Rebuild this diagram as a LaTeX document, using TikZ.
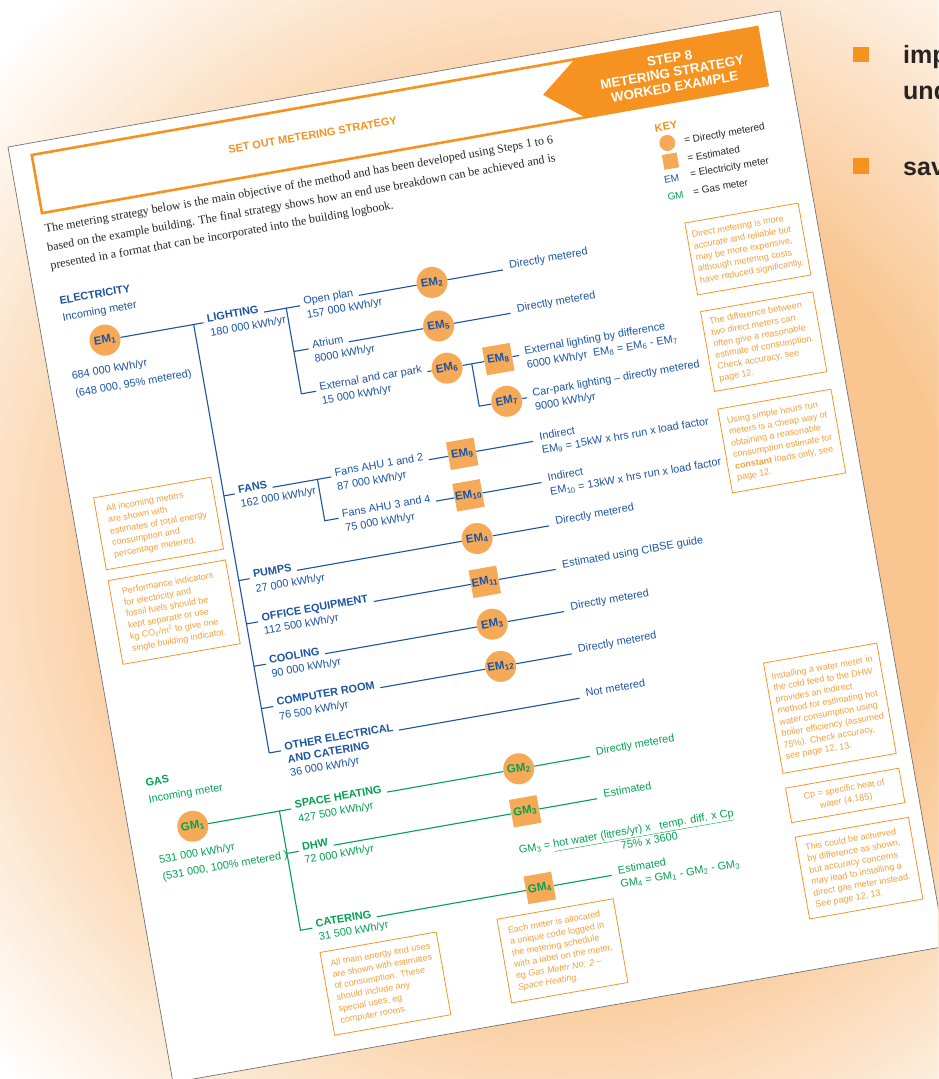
\documentclass[tikz,border=0pt]{standalone}
\usepackage{fontspec}
\setmainfont{Liberation Serif}
\setsansfont{Liberation Sans}
\definecolor{elecblue}{RGB}{28,84,164}
\definecolor{gasgreen}{RGB}{0,163,80}
\definecolor{meterfill}{RGB}{246,170,88}
\definecolor{bannerorange}{RGB}{245,146,32}
\definecolor{notetext}{RGB}{246,160,60}
\definecolor{notebox}{RGB}{245,150,40}
\definecolor{inkgrey}{RGB}{40,36,36}
\definecolor{peach}{RGB}{249,198,146}
\newcommand{\treefont}{\sffamily\fontsize{10.9}{13}\selectfont}
\newcommand{\notefont}{\sffamily\fontsize{9}{11.6}\selectfont}

\begin{document}
\begin{tikzpicture}[x=1pt, y=-1pt,
	wire/.style={elecblue, line width=1.1pt},
	gwire/.style={gasgreen, line width=1.1pt},
	dmeter/.style={circle, fill=meterfill, minimum size=31pt, inner sep=0pt, font=\sffamily\bfseries\fontsize{11.5}{13}\selectfont},
	emeter/.style={rectangle, fill=meterfill, minimum size=28pt, inner sep=0pt, font=\sffamily\bfseries\fontsize{11.5}{13}\selectfont},
	elabel/.style={anchor=base west, inner sep=2pt, text=elecblue, font=\treefont\bfseries},
	evalue/.style={anchor=base west, inner sep=2pt, text=elecblue, font=\treefont},
	glabel/.style={elabel, text=gasgreen},
	gvalue/.style={evalue, text=gasgreen},
	note/.style={draw=notebox, line width=0.8pt, text=notetext, anchor=north west, align=left, inner sep=3pt, font=\notefont},
	keytext/.style={inner sep=1pt, text=inkgrey, font=\sffamily\fontsize{10}{12}\selectfont},
	para/.style={anchor=base west, inner sep=0pt, text=inkgrey, font=\rmfamily\fontsize{12}{14}\selectfont}]

	\useasboundingbox(0, 0) rectangle (938, 1079);
	\clip(0, 0) rectangle (938, 1079);
	\fill[white](0, 0) rectangle (938, 1079);
	% soft peach glow behind the page
	\foreach \i [evaluate=\i as \p using int(\i*2.5), evaluate=\i as \r using 760-\i*9] in {0,...,40}
		\fill[peach!\p!white](560, 560) circle[radius=\r pt];

	% bullets beside the page
	\fill[bannerorange](853, 47) rectangle (869, 62);
	\fill[bannerorange](853, 158) rectangle (869, 174);
	\node[anchor=base west, inner sep=0pt, text=inkgrey, font=\sffamily\bfseries\fontsize{25}{30}\selectfont](imp) at(903, 63){imp};
	\node[anchor=base west, inner sep=0pt, text=inkgrey, font=\sffamily\bfseries\fontsize{25}{30}\selectfont](und) at(903, 99){und};
	\node[anchor=base west, inner sep=0pt, text=inkgrey, font=\sffamily\bfseries\fontsize{25}{30}\selectfont](sav) at(903, 175){sav};

	\begin{scope}[shift={(8, 147)}, rotate=10, transform shape]
		\draw[fill=white, draw=black!55, line width=0.7pt](0, 0) rectangle (784, 950);

		% title strip
		\draw[bannerorange, line width=2.6pt](575, 12) to (22, 12) to (22, 71) to (575, 71);
		\fill[bannerorange](575, 10.7) -- (760, 10.7) -- (760, 72.3) -- (575, 72.3) -- (536, 41.5) -- cycle;
		\node[align=center, text=white, font=\sffamily\bfseries\fontsize{13.3}{14.5}\selectfont](step) at(667, 42){STEP 8\\METERING STRATEGY\\WORKED EXAMPLE};
		\node[text=bannerorange, font=\sffamily\bfseries\fontsize{11}{13}\selectfont](settitle) at(302, 41){SET OUT METERING STRATEGY};

		\node[para](intro1) at(22, 91){The metering strategy below is the main objective of the method and has been developed using Steps 1 to 6};
		\node[para](intro2) at(21, 109.5){based on the example building. The final strategy shows how an end use breakdown can be achieved and is};
		\node[para](intro3) at(21, 128){presented in a format that can be incorporated into the building logbook.};

		% key
		\node[anchor=west, inner sep=0pt, text=bannerorange, font=\sffamily\bfseries\fontsize{11}{13}\selectfont](key) at(640, 94){KEY};
		\node[dmeter, minimum size=16pt](keyd) at(650, 110.5){};
		\node[emeter, minimum size=15pt](keye) at(650, 129){};
		\node[keytext, text=elecblue](keyem) at(648, 147){EM};
		\node[keytext, text=gasgreen](keygm) at(649, 164){GM};
		\node[keytext, anchor=west](keydt) at(666, 112){= Directly metered};
		\node[keytext, anchor=west](keyet) at(666, 129){= Estimated};
		\node[keytext, anchor=west](keyemt) at(666, 146){= Electricity meter};
		\node[keytext, anchor=west](keygmt) at(666, 163){= Gas meter};

		% notes
		\node[note, minimum width=115pt, minimum height=73pt](ndirect) at(653, 192){Direct metering is more\\accurate and reliable but\\may be more expensive,\\although metering costs\\have reduced significantly.};
		\node[note, minimum width=114pt, minimum height=81pt](ndiff) at(653, 282){The difference between\\two direct meters can\\often give a reasonable\\estimate of consumption.\\Check accuracy, see\\page 12.};
		\node[note, minimum width=115pt, minimum height=85pt](nhours) at(653, 381){Using simple hours run\\meters is a cheap way of\\obtaining a reasonable\\consumption estimate for\\\textbf{constant} loads only, see\\page 12.};
		\node[note, minimum width=115pt, minimum height=112pt](nwater) at(654, 639){Installing a water meter in\\the cold feed to the DHW\\provides an indirect\\method for estimating hot\\water consumption using\\boiler efficiency (assumed\\75\%). Check accuracy,\\see page 12, 13.};
		\node[note, align=center, minimum width=115pt, minimum height=35pt](ncp) at(654, 766){Cp = specific heat of\\water (4.185)};
		\node[note, minimum width=115pt, minimum height=83pt](ngas) at(655, 816){This could be achieved\\by difference as shown,\\but accuracy concerns\\may lead to installing a\\direct gas meter instead.\\See page 12, 13.};
		\node[note, minimum width=118pt, minimum height=85pt](ncode) at(347, 845){Each meter is allocated\\a unique code logged in\\the metering schedule\\with a label on the meter,\\eg \textit{Gas Meter No. 2 –}\\\textit{Space Heating.}};
		\node[note, minimum width=118pt, minimum height=84pt](nends) at(167, 847){All main energy end uses\\are shown with estimates\\of consumption. These\\should include any\\special uses, eg\\computer rooms.};
		\node[note, minimum width=119pt, minimum height=73pt](nincoming) at(23, 360){All incoming meters\\are shown with\\estimates of total energy\\consumption and\\percentage metered.};
		\node[note, minimum width=119pt, minimum height=85pt](nindic) at(23, 444){Performance indicators\\for electricity and\\fossil fuels should be\\kept separate or use\\kg CO\textsubscript{2}/m\textsuperscript{2} to give one\\single building indicator.};

		% electricity
		\node[elabel](elec) at(22, 164){ELECTRICITY};
		\node[evalue](elecin) at(22, 181){Incoming meter};
		\node[dmeter, text=elecblue](em1) at(62, 207){EM\textsubscript{1}};
		\node[evalue](em1kwh) at(21, 240){684 000 kWh/yr};
		\node[evalue](em1pc) at(21.5, 258){(648 000, 95\% metered)};

		\coordinate(ej1) at(152, 207);
		\coordinate(ej2) at(152, 381);
		\coordinate(ej3) at(152, 467);
		\coordinate(ej4) at(152, 511);
		\coordinate(ej5) at(152, 554);
		\coordinate(ej6) at(152, 597);
		\coordinate(ej7) at(152, 642);
		\draw[wire](em1) to (ej1) to (ej7);

		\node[elabel](light) at(164, 207){LIGHTING};
		\node[evalue](lightkwh) at(165, 222){180 000 kWh/yr};
		\node[elabel](fans) at(165, 381){FANS};
		\node[evalue](fanskwh) at(165, 395.5){162 000 kWh/yr};
		\node[elabel](pumps) at(165, 467){PUMPS};
		\node[evalue](pumpskwh) at(165, 482){27 000 kWh/yr};
		\node[elabel](office) at(166, 511){OFFICE EQUIPMENT};
		\node[evalue](officekwh) at(166, 524.5){112 500 kWh/yr};
		\node[elabel](cool) at(166, 554){COOLING};
		\node[evalue](coolkwh) at(166, 568){90 000 kWh/yr};
		\node[elabel](comp) at(166, 597){COMPUTER ROOM};
		\node[evalue](compkwh) at(166, 611.5){76 500 kWh/yr};
		\node[elabel](other) at(166, 642){OTHER ELECTRICAL};
		\node[elabel](othercat) at(167, 655.5){AND CATERING};
		\node[evalue](otherkwh) at(167, 669){36 000 kWh/yr};

		\draw[wire, shorten >=2pt](ej1) to (light.base west);
		\draw[wire, shorten >=2pt](ej2) to (fans.base west);
		\draw[wire, shorten >=2pt](ej3) to (pumps.base west);
		\draw[wire, shorten >=2pt](ej4) to (office.base west);
		\draw[wire, shorten >=2pt](ej5) to (cool.base west);
		\draw[wire, shorten >=2pt](ej6) to (comp.base west);
		\draw[wire, shorten >=2pt](ej7) to (other.base west);

		% lighting
		\coordinate(lj1) at(246, 207);
		\coordinate(lj2) at(246, 251);
		\coordinate(lj3) at(246, 294);
		\node[evalue](open) at(262, 207){Open plan};
		\node[evalue](openkwh) at(263, 221){157 000 kWh/yr};
		\node[evalue](atrium) at(263, 251){Atrium};
		\node[evalue](atriumkwh) at(263, 265.5){8000 kWh/yr};
		\node[evalue](park) at(263, 294){External and car park};
		\node[evalue](parkkwh) at(263, 308){15 000 kWh/yr};
		\draw[wire, shorten <=3pt](light.base east) to (lj1) to (lj3);
		\draw[wire, shorten >=2pt](lj1) to (open.base west);
		\draw[wire, shorten >=2pt](lj2) to (atrium.base west);
		\draw[wire, shorten >=2pt](lj3) to (park.base west);

		\node[dmeter, text=elecblue](em2) at(394, 207){EM\textsubscript{2}};
		\node[dmeter, text=elecblue](em5) at(393, 251){EM\textsubscript{5}};
		\node[dmeter, text=elecblue](em6) at(394, 294){EM\textsubscript{6}};
		\node[emeter, text=elecblue](em8) at(446, 294){EM\textsubscript{8}};
		\node[dmeter, text=elecblue](em7) at(447, 337){EM\textsubscript{7}};
		\draw[wire, shorten <=3pt](open.base east) to (em2);
		\draw[wire, shorten <=3pt](atrium.base east) to (em5);
		\draw[wire, shorten <=3pt](park.base east) to (em6);
		\coordinate(xj1) at(419, 294);
		\coordinate(xj2) at(419, 337);
		\draw[wire](em6) to (xj1) to (em8);
		\draw[wire](xj1) to (xj2) to (em7);

		\node[evalue](em2txt) at(471, 207){Directly metered};
		\node[evalue](em5txt) at(471, 251){Directly metered};
		\node[evalue](em8txt) at(471, 294){External lighting by difference};
		\node[evalue](em8kwh) at(471, 308.5){6000 kWh/yr\ \ EM\textsubscript{8} = EM\textsubscript{6} - EM\textsubscript{7}};
		\node[evalue](em7txt) at(471.5, 337){Car-park lighting – directly metered};
		\node[evalue](em7kwh) at(472, 351){9000 kWh/yr};
		\draw[wire, shorten >=5pt](em2) to (em2txt.base west);
		\draw[wire, shorten >=5pt](em5) to (em5txt.base west);
		\draw[wire, shorten >=4pt](em8) to (em8txt.base west);
		\draw[wire, shorten >=4pt](em7) to (em7txt.base west);

		% fans
		\coordinate(fj1) at(247, 381);
		\coordinate(fj2) at(247, 423);
		\node[evalue](ahua) at(263, 381){Fans AHU 1 and 2};
		\node[evalue](ahuakwh) at(263, 395.5){87 000 kWh/yr};
		\node[evalue](ahub) at(263, 423){Fans AHU 3 and 4};
		\node[evalue](ahubkwh) at(264, 437.5){75 000 kWh/yr};
		\draw[wire, shorten <=3pt, shorten >=2pt](fans.base east) to (fj1) to (fj2) to (ahub.base west);
		\draw[wire, shorten >=2pt](fj1) to (ahua.base west);
		\node[emeter, text=elecblue](em9) at(394, 381){EM\textsubscript{9}};
		\node[emeter, text=elecblue](em10) at(393, 423){EM\textsubscript{10}};
		\draw[wire, shorten <=3pt](ahua.base east) to (em9);
		\draw[wire, shorten <=3pt](ahub.base east) to (em10);
		\node[evalue](em9txt) at(471, 381){Indirect};
		\node[evalue](em9calc) at(471, 395){EM\textsubscript{9} = 15kW x hrs run x load factor};
		\node[evalue](em10txt) at(472, 423){Indirect};
		\node[evalue](em10calc) at(472, 437){EM\textsubscript{10} = 13kW x hrs run x load factor};
		\draw[wire, shorten >=5pt](em9) to (em9txt.base west);
		\draw[wire, shorten >=5pt](em10) to (em10txt.base west);

		% other end uses
		\node[dmeter, text=elecblue](em4) at(394, 467){EM\textsubscript{4}};
		\node[emeter, text=elecblue](em11) at(394, 511){EM\textsubscript{11}};
		\node[dmeter, text=elecblue](em3) at(394, 554){EM\textsubscript{3}};
		\node[dmeter, text=elecblue](em12) at(395, 597){EM\textsubscript{12}};
		\draw[wire, shorten <=3pt](pumps.base east) to (em4);
		\draw[wire, shorten <=3pt](office.base east) to (em11);
		\draw[wire, shorten <=3pt](cool.base east) to (em3);
		\draw[wire, shorten <=3pt](comp.base east) to (em12);
		\node[evalue](em4txt) at(472, 467){Directly metered};
		\node[evalue](em11txt) at(471, 511){Estimated using CIBSE guide};
		\node[evalue](em3txt) at(472, 554){Directly metered};
		\node[evalue](em12txt) at(472, 597){Directly metered};
		\node[evalue](othertxt) at(472, 642){Not metered};
		\draw[wire, shorten >=5pt](em4) to (em4txt.base west);
		\draw[wire, shorten >=5pt](em11) to (em11txt.base west);
		\draw[wire, shorten >=5pt](em3) to (em3txt.base west);
		\draw[wire, shorten >=5pt](em12) to (em12txt.base west);
		\draw[wire, shorten <=3pt, shorten >=5pt](other.base east) to (othertxt.base west);

		% gas
		\node[glabel](gas) at(23, 654){GAS};
		\node[gvalue](gasin) at(23, 671){Incoming meter};
		\node[dmeter, text=gasgreen](gm1) at(64, 701){GM\textsubscript{1}};
		\node[gvalue](gm1kwh) at(23, 732){531 000 kWh/yr};
		\node[gvalue](gm1pc) at(23.5, 749){(531 000, 100\% metered )};

		\coordinate(gj1) at(152, 701);
		\coordinate(gj2) at(152, 744);
		\coordinate(gj3) at(152, 822);
		\node[glabel](space) at(166, 701){SPACE HEATING};
		\node[gvalue](spacekwh) at(167, 715.5){427 500 kWh/yr};
		\node[glabel](dhw) at(166, 744){DHW};
		\node[gvalue](dhwkwh) at(166, 757.5){72 000 kWh/yr};
		\node[glabel](cater) at(166, 822){CATERING};
		\node[gvalue](caterkwh) at(167, 835.5){31 500 kWh/yr};
		\draw[gwire, shorten >=2pt](gm1) to (gj1) to (gj3) to (cater.base west);
		\draw[gwire, shorten >=2pt](gj1) to (space.base west);
		\draw[gwire, shorten >=2pt](gj2) to (dhw.base west);

		\node[dmeter, text=gasgreen](gm2) at(395, 701){GM\textsubscript{2}};
		\node[emeter, text=gasgreen](gm3) at(394, 744){GM\textsubscript{3}};
		\node[emeter, text=gasgreen](gm4) at(395, 822){GM\textsubscript{4}};
		\draw[gwire, shorten <=3pt](space.base east) to (gm2);
		\draw[gwire, shorten <=3pt](dhw.base east) to (gm3);
		\draw[gwire, shorten <=3pt](cater.base east) to (gm4);
		\node[gvalue](gm2txt) at(472, 701){Directly metered};
		\node[gvalue](gm3txt) at(472, 744){Estimated};
		\node[gvalue](gm3eq) at(379, 785){GM\textsubscript{3} = \underline{hot water (litres/yr) x\ \ \ temp. diff. x Cp}};
		\node[gvalue, anchor=base](gm3den) at(511, 798.5){75\% x 3600};
		\node[gvalue](gm4txt) at(473, 822){Estimated};
		\node[gvalue](gm4calc) at(473, 836){GM\textsubscript{4} = GM\textsubscript{1} - GM\textsubscript{2} - GM\textsubscript{3}};
		\draw[gwire, shorten >=5pt](gm2) to (gm2txt.base west);
		\draw[gwire, shorten >=5pt](gm3) to (gm3txt.base west);
		\draw[gwire, shorten >=5pt](gm4) to (gm4txt.base west);
	\end{scope}
\end{tikzpicture}
\end{document}
